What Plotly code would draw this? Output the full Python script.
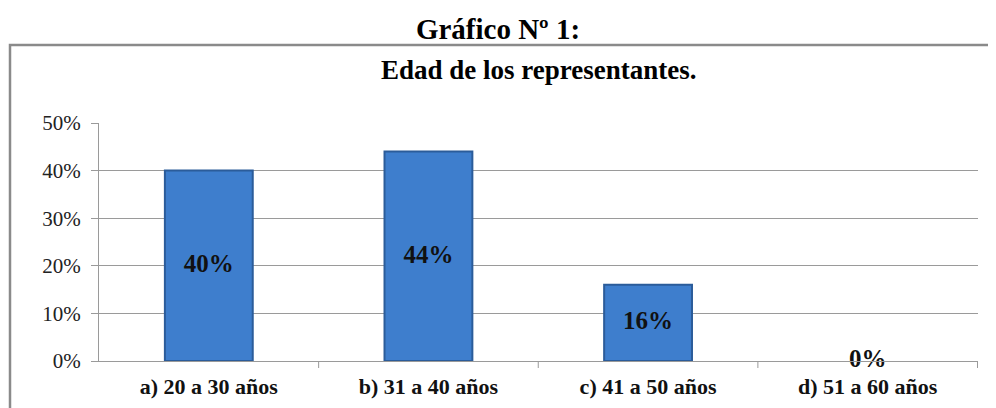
import plotly.graph_objects as go

categorias = ["a) 20 a 30 años", "b) 31 a 40 años", "c) 41 a 50 años", "d) 51 a 60 años"]
valores = [0.40, 0.44, 0.16, 0.00]
etiquetas = ["40%", "44%", "16%", "0%"]
ticks_y = [0, 0.1, 0.2, 0.3, 0.4, 0.5]
ticks_txt = ["0%", "10%", "20%", "30%", "40%", "50%"]

serif = "Liberation Serif, Times New Roman, serif"

# la página deja 8px de margen, se compensa aquí
W, H = 988, 400
OFF = 8

fig = go.Figure()

# barras
fig.add_trace(go.Bar(
    x=categorias,
    y=valores,
    width=0.4,
    marker=dict(color="#3e7ecd",
                line=dict(color="#2b5c9a", width=[2 if v > 0 else 0 for v in valores])),
    hoverinfo="skip",
))

# etiquetas al centro de cada barra (el 0% queda sobre la línea base)
fig.add_trace(go.Scatter(
    x=categorias,
    y=[v / 2 for v in valores],
    mode="text",
    text=["<b>" + t + "</b>" for t in etiquetas],
    textfont=dict(family=serif, size=25, color="#111111"),
    textposition="middle center",
    hoverinfo="skip",
    cliponaxis=False,
))

fig.update_layout(
    width=W,
    height=H,
    margin=dict(l=99 - OFF, r=18, t=123 - OFF, b=47),
    paper_bgcolor="white",
    plot_bgcolor="white",
    showlegend=False,
    font=dict(family=serif, color="#111111"),
    title=dict(
        text="<b>Gráfico Nº 1:</b>",
        x=(498 - OFF) / W, xref="container", xanchor="center",
        y=1 - (29 - OFF) / H, yref="container", yanchor="middle",
        font=dict(family=serif, size=29, color="#000000"),
    ),
    annotations=[dict(
        text="<b>Edad de los representantes.</b>",
        xref="paper", yref="paper",
        x=0.5, y=(361 - 70) / 238,
        xanchor="center", yanchor="middle",
        showarrow=False,
        font=dict(family=serif, size=27, color="#000000"),
    )],
    shapes=[dict(
        type="rect", xref="paper", yref="paper",
        x0=(10 - 99) / 879, x1=(1010 - 99) / 879,
        y0=(361 - 420) / 238, y1=(361 - 45) / 238,
        line=dict(color="#8a8a8a", width=2.5),
        fillcolor="rgba(0,0,0,0)",
        layer="below",
    )],
)

fig.update_yaxes(
    range=[0, 0.5],
    tickvals=ticks_y,
    ticktext=ticks_txt,
    tickfont=dict(family=serif, size=21, color="#222222"),
    ticklabelstandoff=6,
    automargin=False,
    showgrid=True,
    gridcolor="#9a9a9a",
    gridwidth=1,
    showline=True,
    linecolor="#9a9a9a",
    linewidth=1,
    ticks="outside",
    ticklen=7,
    tickcolor="#9a9a9a",
    zeroline=False,
)

fig.update_xaxes(
    tickfont=dict(family=serif, size=22, color="#111111"),
    tickprefix="<b>",
    ticksuffix="</b>",
    ticklabelstandoff=6,
    automargin=False,
    showline=True,
    linecolor="#9a9a9a",
    linewidth=1,
    ticks="",
    showgrid=False,
)

# marcas entre categorías en el eje x
for i in range(1, 5):
    fig.add_shape(
        type="line", xref="x", yref="paper",
        x0=i - 0.5, x1=i - 0.5, y0=0, y1=-7 / 238,
        line=dict(color="#9a9a9a", width=1),
    )

fig.write_html("out.html")
